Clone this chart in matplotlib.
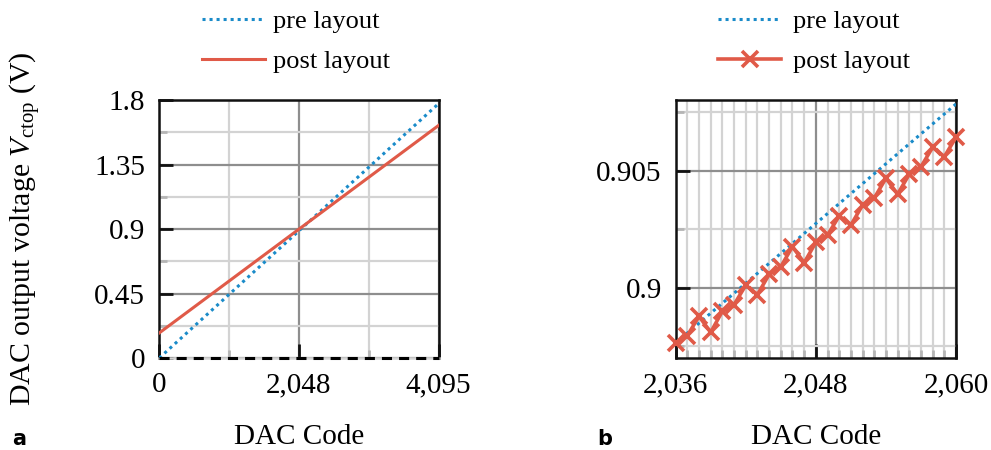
"""DAC output voltage, pre vs post layout (full range and zoom around mid code)."""

import matplotlib
matplotlib.use("Agg")
import matplotlib.pyplot as plt
from matplotlib.ticker import FixedLocator

plt.rcParams["font.family"] = ["Liberation Serif", "DejaVu Serif"]
plt.rcParams["mathtext.fontset"] = "custom"
plt.rcParams["mathtext.rm"] = "Liberation Serif"
plt.rcParams["mathtext.it"] = "Liberation Serif:italic"

BLUE = "#1a8bc9"
RED = "#e05a48"
MAJOR_GRID = "#8e8e8e"
MINOR_GRID = "#d3d3d3"

# panel a: full code range (straight lines, end points)
code_a = [0, 4095]
pre_a = [0.0, 1.775]
post_a = [0.175, 1.623]
xticks_a = [0, 2048, 4095]
xticklabels_a = ["0", "2,048", "4,095"]
yticks_a = [0, 0.45, 0.9, 1.35, 1.8]
yticklabels_a = ["0", "0.45", "0.9", "1.35", "1.8"]

# panel b: zoom around mid code
code_b = [2036, 2037, 2038, 2039, 2040, 2041, 2042, 2043, 2044, 2045, 2046, 2047, 2048,
          2049, 2050, 2051, 2052, 2053, 2054, 2055, 2056, 2057, 2058, 2059, 2060]
post_b = [0.89764, 0.89796, 0.89878, 0.89810, 0.89900, 0.89928, 0.90011, 0.89971,
          0.90057, 0.90090, 0.90176, 0.90107, 0.90194, 0.90225, 0.90307, 0.90268,
          0.90353, 0.90383, 0.90468, 0.90400, 0.90485, 0.90517, 0.90600, 0.90560,
          0.90643]
pre_b_code = [2036, 2060]
pre_b = [0.89764, 0.90785]
xticks_b = [2036, 2048, 2060]
xticklabels_b = ["2,036", "2,048", "2,060"]
yticks_b = [0.9, 0.905]
yticklabels_b = ["0.9", "0.905"]

FS = 21


def style_axes(ax, xminor, yminor):
    ax.xaxis.set_minor_locator(FixedLocator(xminor))
    ax.yaxis.set_minor_locator(FixedLocator(yminor))
    ax.grid(True, which="major", color=MAJOR_GRID, lw=1.6, zorder=0)
    ax.grid(True, which="minor", color=MINOR_GRID, lw=1.6, zorder=0)
    ax.set_axisbelow(True)
    ax.tick_params(which="major", direction="in", length=10, width=2, color="#111111",
                   labelsize=FS, pad=10)
    ax.tick_params(which="minor", direction="in", length=6, width=2, color="#b5b5b5")
    for s in ax.spines.values():
        s.set_linewidth(1.8)
        s.set_color("#111111")


fig = plt.figure(figsize=(9.91, 4.5), dpi=100)
ax1 = fig.add_axes([0.1607, 0.2044, 0.2819, 0.5733])
ax2 = fig.add_axes([0.6818, 0.2044, 0.2829, 0.5733])

legend_kw = dict(bbox_transform=fig.transFigure, loc="upper left", frameon=False,
                 fontsize=19, handlelength=2.4, borderpad=0, borderaxespad=0,
                 labelspacing=0.6)

# ---- panel a
ax1.plot(code_a, pre_a, color=BLUE, lw=2.2, ls=(0, (1, 1.3)), label="pre layout", zorder=3)
ax1.plot(code_a, post_a, color=RED, lw=2.2, label="post layout", zorder=3)
ax1.axhline(0, color="black", lw=2.2, ls=(0, (3.3, 2.3)), zorder=4, clip_on=False)
ax1.set_xlim(0, 4095)
ax1.set_ylim(0, 1.8)
ax1.set_xticks(xticks_a)
ax1.set_xticklabels(xticklabels_a)
ax1.set_yticks(yticks_a)
ax1.set_yticklabels(yticklabels_a)
style_axes(ax1, [1024, 3072], [0.225, 0.675, 1.125, 1.575])
ax1.spines["bottom"].set_color(MINOR_GRID)
ax1.set_xlabel("DAC Code", fontsize=FS)
ax1.xaxis.set_label_coords(0.5, -0.257)
ax1.set_ylabel(r"DAC output voltage $V_{\mathrm{ctop}}$ (V)", fontsize=21.5)
ax1.yaxis.set_label_coords(-0.416, 0.5)
ax1.legend(bbox_to_anchor=(202 / 991, 1 - 10 / 450), handletextpad=0.3, **legend_kw)

# ---- panel b
ax2.plot(pre_b_code, pre_b, color=BLUE, lw=2.2, ls=(0, (1, 1.3)), label="pre layout", zorder=3)
ax2.plot(code_b, post_b, color=RED, lw=2.6, marker="x", ms=11, mew=2.6,
         label="post layout", zorder=4, clip_on=False)
ax2.set_xlim(2036, 2060)
ax2.set_ylim(0.89700, 0.90802)
ax2.set_xticks(xticks_b)
ax2.set_xticklabels(xticklabels_b)
ax2.set_yticks(yticks_b)
ax2.set_yticklabels(yticklabels_b)
style_axes(ax2, code_b, [0.8975, 0.9025, 0.9075])
ax2.set_xlabel("DAC Code", fontsize=FS)
ax2.xaxis.set_label_coords(0.5, -0.257)
ax2.legend(bbox_to_anchor=(718 / 991, 1 - 10 / 450), handletextpad=0.45, **legend_kw)

fig.text(0.012, 0.012, "a", fontsize=15, fontweight="bold", family="DejaVu Sans")
fig.text(0.603, 0.012, "b", fontsize=15, fontweight="bold", family="DejaVu Sans")

fig.savefig("out.png", dpi=100)
